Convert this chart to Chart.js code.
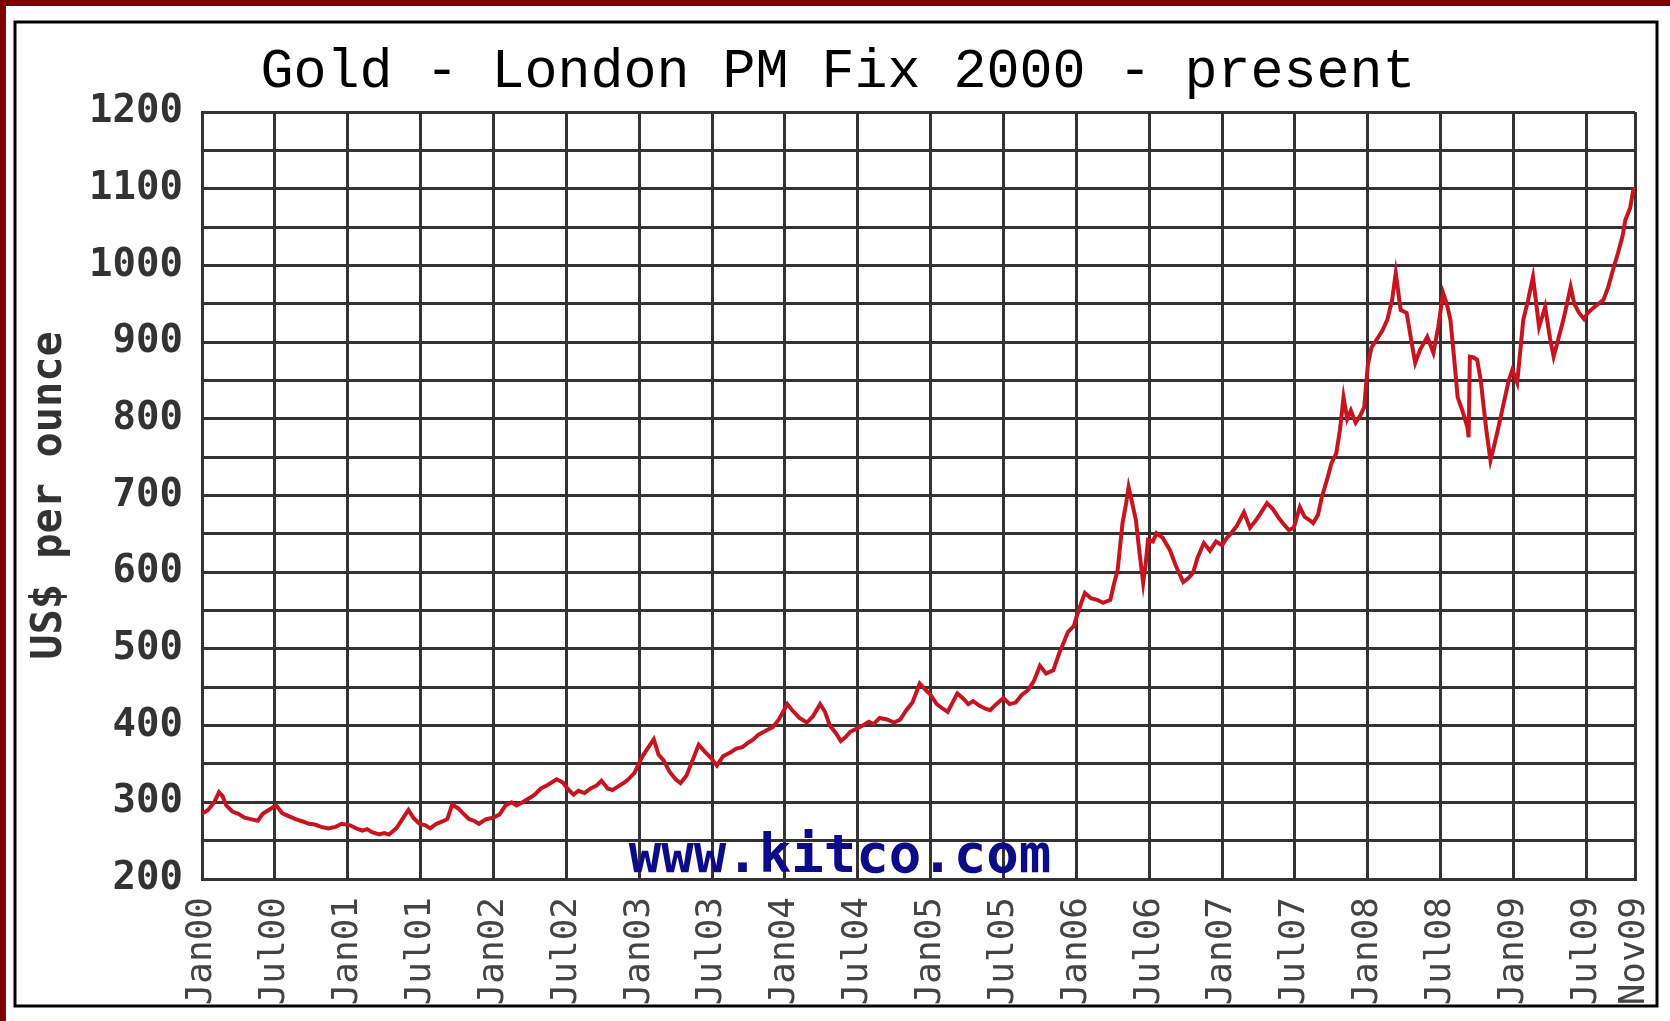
<!DOCTYPE html>
<html><head><meta charset="utf-8">
<script src="https://cdn.jsdelivr.net/npm/chart.js@4/dist/chart.umd.min.js"></script>
<style>html,body{margin:0;padding:0;background:#fff;}canvas{display:block;}</style>
</head><body>
<canvas id="c" width="1670" height="1021"></canvas>
<script>
// ---- text ----
const titleText = 'Gold - London PM Fix 2000 - present';
const yTitleText = 'US$ per ounce';
const watermarkText = 'www.kitco.com';

// ---- x axis ticks (months since Jan 2000) ----
const tickMonths = [0,6,12,18,24,30,36,42,48,54,60,66,72,78,84,90,96,102,108,114,118];
const tickLabels = ['Jan00','Jul00','Jan01','Jul01','Jan02','Jul02','Jan03','Jul03','Jan04','Jul04',
                    'Jan05','Jul05','Jan06','Jul06','Jan07','Jul07','Jan08','Jul08','Jan09','Jul09','Nov09'];

// ---- y axis ----
const yMin = 200, yMax = 1200, yGridStep = 50, yLabelStep = 100;

// ---- series: month offset within the year, and US$ per ounce ----
const m2000 = [0,0.5,1.0,1.4,1.7,2.0,2.5,3.0,3.5,4.0,4.6,5.0,5.5,6.1,6.6,7.0,7.7,8.3,8.8,9.3,9.8,10.4,11.0,11.5];
const p2000 = [285,290,300,313,308,296,288,285,280,278,276,285,290,296,286,283,278,275,272,271,268,266,268,272];

const m2001 = [0.2,0.7,1.2,1.6,2.0,2.6,3.0,3.4,4.0,4.5,5.0,5.4,5.9,6.4,6.8,7.3,7.8,8.2,8.6,9.1,9.6,10.0,10.4,10.8,11.4];
const p2001 = [270,266,263,265,261,258,260,258,266,278,290,280,272,270,266,272,275,278,297,292,284,278,276,272,278];

const m2002 = [0,0.5,1.0,1.5,1.9,2.4,2.9,3.4,3.9,4.4,5.2,5.7,6.2,6.6,7.0,7.5,8.0,8.5,8.9,9.4,9.8,10.4,10.8,11.1,11.6];
const p2002 = [280,284,296,300,296,300,305,310,318,322,330,326,316,310,315,312,318,322,328,318,316,322,326,330,338];

const m2003 = [0.2,0.6,1.2,1.6,2.0,2.5,3.0,3.4,3.9,4.4,4.9,5.4,5.9,6.4,6.9,7.5,8.0,8.5,9.0,9.4,9.8,10.5,11.0,11.5];
const p2003 = [358,368,382,362,355,340,330,325,335,355,375,366,358,348,360,365,370,372,378,382,388,394,398,408];

const m2004 = [0.2,0.6,1.2,1.8,2.3,2.9,3.3,3.7,4.2,4.6,5.0,5.4,5.9,6.4,6.9,7.3,7.8,8.4,9.0,9.5,10.0,10.5,11.1,11.5];
const p2004 = [428,420,410,404,412,428,418,400,390,380,385,392,396,400,405,402,410,408,404,408,420,430,455,448];

const m2005 = [0,0.5,1.0,1.4,1.8,2.2,2.7,3.1,3.5,4.0,4.5,4.9,5.4,6.0,6.5,7.0,7.5,8.0,8.5,9.0,9.5,10.1,10.6,11.0,11.3,11.8];
const p2005 = [440,428,422,418,430,442,435,428,432,426,422,420,428,436,428,430,440,446,458,478,468,472,495,510,522,530];

const m2006 = [0,0.4,0.7,1.2,1.7,2.2,2.8,3.1,3.4,3.8,4.1,4.3,4.6,4.9,5.2,5.5,5.7,5.9,6.3,6.6,7.1,7.7,8.2,8.8,9.2,9.6,10.0,10.5,11.0,11.5];
const p2006 = [541,560,573,566,564,560,564,585,603,664,690,711,690,668,625,586,610,642,640,651,645,629,608,587,592,599,620,638,628,640];

const m2007 = [0,0.4,0.7,1.2,1.8,2.3,2.8,3.3,3.7,4.2,4.7,5.1,5.5,5.9,6.4,6.8,7.2,7.5,7.9,8.2,8.7,9.0,9.4,9.7,10.0,10.3,10.6,11.0,11.4,11.7];
const p2007 = [635,645,650,660,678,658,668,680,690,682,670,662,655,658,685,672,668,664,675,697,724,742,755,785,828,800,811,795,805,815];

const m2008 = [0,0.3,0.8,1.2,1.6,2.0,2.3,2.7,3.2,3.6,3.9,4.3,4.9,5.4,5.8,6.2,6.5,6.8,7.1,7.4,7.8,8.2,8.3,8.4,8.7,9.0,9.3,9.5,9.8,10.1,10.4,10.7,11.2,11.6,11.9];
const p2008 = [870,893,905,915,929,955,990,942,938,900,873,890,907,886,920,964,950,929,880,828,810,789,776,881,880,877,850,821,780,746,765,785,821,850,864];

const m2009 = [0.3,0.5,0.8,1.2,1.6,2.1,2.4,2.6,3.0,3.3,3.7,4.1,4.4,4.7,5.0,5.4,5.8,6.1,6.6,7.0,7.4,7.8,8.2,8.6,9.0,9.2,9.6,9.9];
const p2009 = [847,880,929,955,985,920,935,946,905,881,905,929,950,972,950,938,930,938,945,950,955,972,995,1016,1040,1059,1075,1102];

const yearStarts = [0,12,24,36,48,60,72,84,96,108];
const yearMonths = [m2000,m2001,m2002,m2003,m2004,m2005,m2006,m2007,m2008,m2009];
const yearPrices = [p2000,p2001,p2002,p2003,p2004,p2005,p2006,p2007,p2008,p2009];

const points = [];
yearMonths.forEach((ms, i) => ms.forEach((m, j) => points.push({x: yearStarts[i] + m, y: yearPrices[i][j]})));

const decor = {
  id: 'decor',
  beforeDraw(chart) {
    const ctx = chart.ctx;
    ctx.save();
    ctx.fillStyle = '#ffffff';
    ctx.fillRect(0, 0, chart.width, chart.height);
    ctx.fillStyle = '#800000';
    ctx.fillRect(0, 0, chart.width, 6);
    ctx.fillRect(0, 0, 6, chart.height);
    ctx.strokeStyle = '#000000';
    ctx.lineWidth = 3;
    ctx.strokeRect(15, 22, 1642, 984);
    ctx.fillStyle = '#000000';
    ctx.font = '55px "Liberation Mono"';
    ctx.textAlign = 'center';
    ctx.textBaseline = 'alphabetic';
    ctx.fillText(titleText, 838, 87);
    ctx.restore();
  },
  beforeDatasetsDraw(chart) {
    const ctx = chart.ctx;
    ctx.save();
    ctx.fillStyle = '#0c0c8a';
    ctx.font = 'bold 54px "DejaVu Sans Mono"';
    ctx.textAlign = 'center';
    ctx.textBaseline = 'alphabetic';
    ctx.fillText(watermarkText, 840, 872);
    ctx.restore();
  }
};

Chart.defaults.font.family = '"DejaVu Sans Mono"';

new Chart(document.getElementById('c'), {
  type: 'line',
  data: {
    datasets: [{
      data: points,
      borderColor: '#c8141e',
      borderWidth: 4,
      pointRadius: 0,
      tension: 0,
      fill: false
    }]
  },
  options: {
    responsive: false,
    animation: false,
    devicePixelRatio: 1,
    layout: { padding: { top: 112, left: 14, right: 35, bottom: 12 } },
    plugins: { legend: { display: false }, title: { display: false }, tooltip: { enabled: false } },
    scales: {
      x: {
        type: 'linear',
        min: 0, max: 118,
        afterBuildTicks: (s) => { s.ticks = tickMonths.map(v => ({ value: v })); },
        afterFit: (s) => { s.height = 130; s.paddingRight = 0; s.paddingLeft = 0; },
        grid: { color: '#333333', lineWidth: 3, drawTicks: false },
        border: { color: '#333333', width: 3 },
        ticks: {
          autoSkip: false, minRotation: 90, maxRotation: 90, padding: 18,
          color: '#444444',
          font: { size: 36, family: '"DejaVu Sans Mono"' },
          callback: (v) => { const i = tickMonths.indexOf(v); return i >= 0 ? tickLabels[i] : ''; }
        }
      },
      y: {
        type: 'linear',
        min: yMin, max: yMax,
        afterFit: (s) => { s.width = 188; },
        grid: { color: '#333333', lineWidth: 3, drawTicks: false },
        border: { color: '#333333', width: 3 },
        ticks: {
          stepSize: yGridStep, autoSkip: false, padding: 19,
          color: '#333333',
          font: { size: 39, weight: 'bold', family: '"DejaVu Sans Mono"' },
          callback: (v) => (v % yLabelStep === 0 ? String(v) : '')
        },
        title: {
          display: true, text: yTitleText, color: '#333333',
          font: { size: 42, weight: 'bold', family: '"DejaVu Sans Mono"', lineHeight: 1.2 },
          padding: { top: 11, bottom: 0 }
        }
      }
    }
  },
  plugins: [decor]
});
</script>
</body></html>
